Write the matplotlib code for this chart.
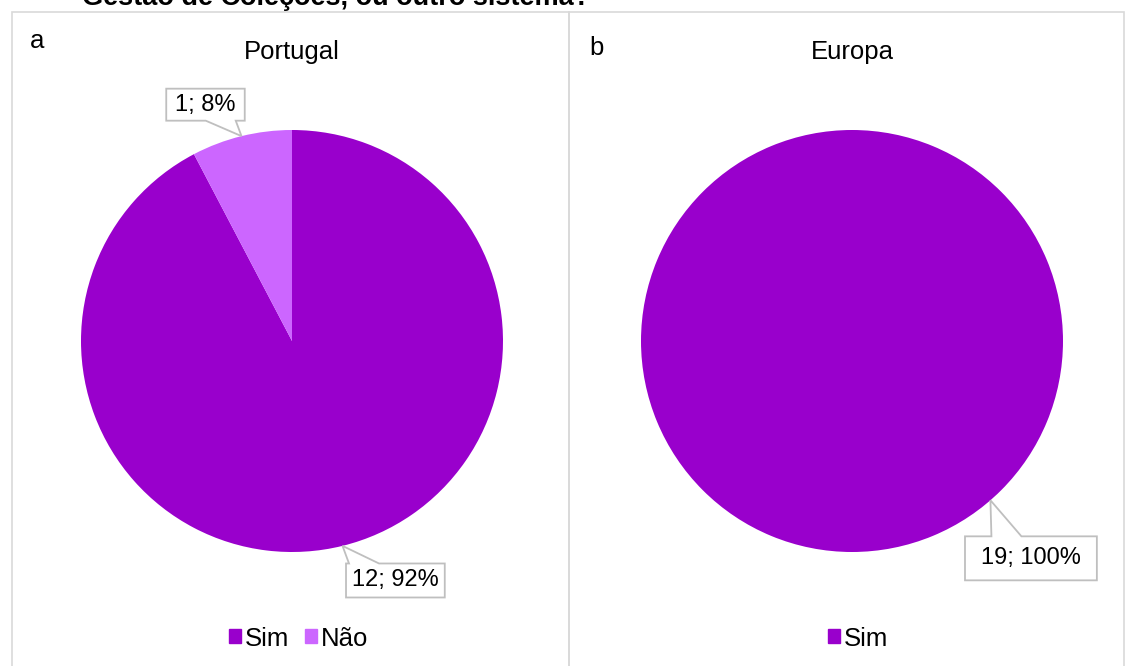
import numpy as np
import matplotlib
matplotlib.use("Agg")
import matplotlib.pyplot as plt
from matplotlib.patches import Rectangle, Patch, Polygon
from matplotlib.transforms import IdentityTransform

plt.rcParams['font.family'] = ['Liberation Sans', 'DejaVu Sans']

# data
categories = ['Sim', 'Não']
portugal_values = [12, 1]
europa_categories = ['Sim']
europa_values = [19]
colors = ['#9900CC', '#CC66FF']
suptitle = 'Gestão de Coleções, ou outro sistema?'

W, H = 1125, 666
FS = 18.5
fig = plt.figure(figsize=(W / 100, H / 100), dpi=100)

# question text, cut off at the top like the source
fig.text(82 / W, 1 - 5 / H, suptitle, fontsize=19.5, fontweight='bold',
         ha='left', va='baseline')

# panel borders
border = '#d9d9d9'
for x0, x1 in [(12, 569), (569, 1124)]:
    fig.patches.append(Rectangle((x0 / W, -0.01), (x1 - x0) / W, 1 - 12 / H + 0.01,
                                 transform=fig.transFigure, fill=False,
                                 edgecolor=border, linewidth=1.2))


def pie_axes(cx):
    r = 211
    ax = fig.add_axes([(cx - r) / W, (H - 341 - r) / H, 2 * r / W, 2 * r / H])
    return ax


callouts = []


def callout(ax, text, tip, pos, padx=8, half_h=17):
    t = ax.text(pos[0], pos[1], text, fontsize=17, ha='center', va='center', zorder=5)
    callouts.append((ax, t, tip, padx, half_h))


def draw_bubbles():
    # speech-bubble outline around each data label, pointing at its slice
    fig.canvas.draw()
    r = fig.canvas.get_renderer()
    for ax, t, tip, padx, half_h in callouts:
        bb = t.get_window_extent(r)
        x0, x1 = bb.x0 - padx, bb.x1 + padx
        cy = (bb.y0 + bb.y1) / 2
        y0, y1 = cy - half_h, cy + half_h
        tx, ty = ax.transData.transform(tip)
        cx = (x0 + x1) / 2
        bc = tx + np.sign(cx - tx) * 16
        bc = min(max(bc, x0 + 18), x1 - 24)
        b0, b1 = bc - 15, bc + 15
        if ty > y1:
            pts = [(x0, y0), (x1, y0), (x1, y1), (b1, y1), (tx, ty), (b0, y1), (x0, y1)]
        else:
            pts = [(x0, y0), (b0, y0), (tx, ty), (b1, y0), (x1, y0), (x1, y1), (x0, y1)]
        ax.add_patch(Polygon(pts, closed=True, transform=IdentityTransform(),
                             facecolor='white', edgecolor='#bfbfbf', linewidth=1.3,
                             zorder=4, clip_on=False))


def pie_mids(values):
    total = sum(values)
    mids, acc = [], 0
    for v in values:
        mids.append(np.deg2rad(90 - 360 * (acc + v / 2) / total))
        acc += v
    return mids


leg_kw = dict(loc='center', frameon=False, fontsize=FS, handlelength=0.47,
              handleheight=0.47, handletextpad=0.15, columnspacing=0.6)

# Portugal
ax1 = pie_axes(292)
ax1.pie(portugal_values, colors=colors, startangle=90, counterclock=False,
        radius=1, wedgeprops=dict(linewidth=0))
ax1.set_xlim(-1, 1)
ax1.set_ylim(-1, 1)
ax1.set_aspect('equal')
total = sum(portugal_values)
mids = pie_mids(portugal_values)
labels1 = [f'{v}; {round(100 * v / total)}%' for v in portugal_values]
callout(ax1, labels1[0], (np.cos(mids[0]), np.sin(mids[0])), (0.49, -1.135), 6, 17)
callout(ax1, labels1[1], (np.cos(mids[1]), np.sin(mids[1])), (-0.41, 1.12), 9, 16)
ax1.text(0, 1.37, 'Portugal', fontsize=FS, ha='center', va='center')
ax1.text(-1.21, 1.42, 'a', fontsize=FS, ha='center', va='center')
ax1.legend([Patch(color=c) for c in colors], categories, ncol=2,
           bbox_to_anchor=(0.515, -0.205), **leg_kw)

# Europa
ax2 = pie_axes(852)
ax2.pie(europa_values, colors=colors[:1], startangle=90, counterclock=False,
        radius=1, wedgeprops=dict(linewidth=0))
ax2.set_xlim(-1, 1)
ax2.set_ylim(-1, 1)
ax2.set_aspect('equal')
tot2 = sum(europa_values)
lab2 = f'{europa_values[0]}; {round(100 * europa_values[0] / tot2)}%'
ang = np.deg2rad(-49)
callout(ax2, lab2, (np.cos(ang), np.sin(ang)), (0.848, -1.03), 16, 22)
ax2.text(0, 1.37, 'Europa', fontsize=FS, ha='center', va='center')
ax2.text(-1.21, 1.39, 'b', fontsize=FS, ha='center', va='center')
ax2.legend([Patch(color=colors[0])], europa_categories, ncol=1,
           bbox_to_anchor=(0.515, -0.205), **leg_kw)

draw_bubbles()
fig.savefig('out.png', dpi=100)
